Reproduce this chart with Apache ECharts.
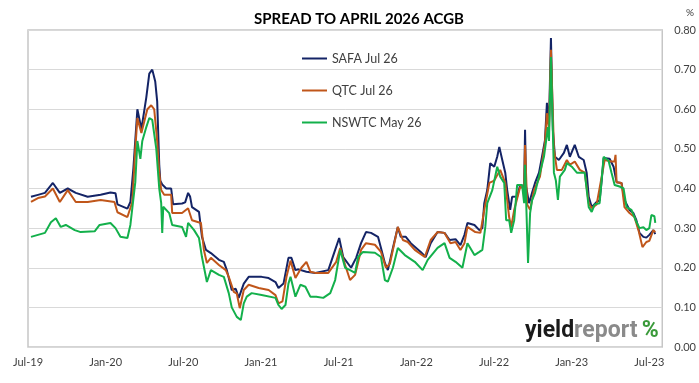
<!DOCTYPE html>
<html><head><meta charset="utf-8">
<script src="https://cdn.jsdelivr.net/npm/echarts@6/dist/echarts.min.js"></script>
<style>html,body{margin:0;padding:0;background:#fff}#c{width:699px;height:383px}</style>
</head><body><div id="c"></div>
<script>
// x = months since 1 Jul 2019, y = spread (%)
const tickLabels = ['Jul-19','Jan-20','Jul-20','Jan-21','Jul-21','Jan-22','Jul-22','Jan-23','Jul-23'];
const seriesNames = ['SAFA Jul 26','QTC Jul 26','NSWTC May 26'];

const safa = [[0.23,.379],[0.77,.384],[1.31,.389],[1.92,.414],[2.46,.389],[3.07,.400],[3.69,.389],[4.61,.379],[5.61,.384],[6.37,.390],[6.76,.388],[6.91,.360],[7.68,.349],[7.91,.366],[8.14,.450],[8.45,.600],[8.76,.550],[9.14,.630],[9.37,.690],[9.60,.700],[9.83,.670],[9.98,.620],[10.14,.460],[10.22,.420],[10.37,.410],[10.68,.400],[11.06,.400],[11.21,.360],[11.90,.362],[12.14,.365],[12.37,.389],[12.52,.380],[12.67,.353],[13.21,.341],[13.44,.278],[13.75,.245],[14.13,.237],[14.75,.220],[15.13,.215],[15.36,.194],[15.74,.144],[16.05,.147],[16.28,.124],[16.67,.160],[17.05,.177],[18.05,.177],[18.59,.174],[19.12,.164],[19.35,.149],[19.74,.160],[20.12,.225],[20.35,.225],[20.66,.194],[20.89,.196],[21.51,.190],[22.20,.187],[23.20,.194],[23.73,.245],[24.04,.275],[24.35,.227],[24.96,.200],[25.35,.225],[25.73,.262],[26.11,.290],[26.50,.288],[27.04,.278],[27.27,.250],[27.57,.212],[27.80,.194],[28.19,.250],[28.57,.303],[28.80,.278],[29.19,.278],[29.57,.262],[30.34,.240],[30.72,.227],[31.11,.262],[31.64,.290],[32.18,.288],[32.57,.270],[33.03,.272],[33.41,.257],[33.72,.283],[33.95,.313],[34.49,.308],[34.87,.295],[35.10,.300],[35.25,.363],[35.48,.396],[35.71,.464],[36.02,.455],[36.25,.480],[36.41,.505],[36.64,.472],[36.87,.440],[37.02,.396],[37.25,.346],[37.40,.379],[37.79,.380],[38.02,.409],[38.33,.405],[38.40,.548],[38.48,.405],[38.71,.363],[38.94,.389],[39.17,.414],[39.48,.440],[39.71,.480],[39.94,.522],[40.09,.616],[40.25,.565],[40.40,.780],[40.55,.548],[40.71,.480],[41.01,.472],[41.40,.490],[41.63,.510],[41.86,.480],[42.24,.510],[42.55,.480],[42.93,.472],[43.16,.440],[43.32,.379],[43.55,.353],[43.93,.366],[44.16,.370],[44.32,.420],[44.47,.477],[44.93,.475],[45.24,.455],[45.47,.416],[45.85,.414],[46.08,.371],[46.47,.346],[46.77,.338],[47.00,.320],[47.24,.288],[47.54,.278],[47.77,.276],[48.00,.283],[48.31,.295],[48.46,.285]];

const qtc = [[0.23,.366],[0.77,.376],[1.31,.380],[1.92,.400],[2.46,.366],[3.07,.396],[3.69,.366],[4.61,.366],[5.61,.371],[6.68,.366],[6.91,.340],[7.68,.328],[8.06,.366],[8.29,.500],[8.45,.578],[8.76,.540],[9.22,.600],[9.52,.610],[9.75,.600],[9.98,.520],[10.14,.440],[10.29,.396],[10.52,.384],[11.06,.384],[11.14,.338],[11.90,.338],[12.37,.350],[12.67,.320],[13.36,.313],[13.59,.245],[13.82,.212],[14.13,.225],[14.75,.207],[15.28,.194],[15.51,.177],[15.90,.139],[16.13,.135],[16.36,.098],[16.67,.144],[17.05,.157],[17.82,.149],[18.59,.144],[19.12,.131],[19.35,.110],[19.66,.115],[19.97,.177],[20.28,.218],[20.66,.174],[21.12,.200],[21.51,.215],[21.81,.190],[22.20,.187],[23.20,.187],[23.81,.215],[24.12,.250],[24.50,.207],[24.88,.169],[25.27,.182],[25.73,.245],[26.11,.262],[26.80,.258],[27.27,.240],[27.65,.200],[27.96,.210],[28.57,.303],[28.96,.270],[29.34,.265],[29.88,.245],[30.65,.227],[31.11,.270],[31.64,.290],[32.18,.288],[32.64,.262],[33.03,.265],[33.41,.245],[33.72,.262],[33.95,.303],[34.56,.290],[34.95,.288],[35.25,.346],[35.64,.414],[36.02,.420],[36.48,.447],[36.87,.414],[37.17,.328],[37.33,.303],[37.56,.346],[38.02,.404],[38.33,.400],[38.40,.510],[38.56,.360],[38.79,.346],[39.09,.396],[39.55,.430],[39.94,.515],[40.09,.590],[40.25,.550],[40.40,.750],[40.63,.500],[40.86,.447],[41.24,.447],[41.63,.472],[41.86,.460],[42.24,.468],[42.63,.447],[43.01,.440],[43.32,.363],[43.55,.350],[43.93,.360],[44.32,.430],[44.55,.472],[45.08,.468],[45.31,.468],[45.39,.485],[45.47,.416],[45.85,.414],[46.08,.353],[46.47,.338],[46.85,.328],[47.16,.295],[47.47,.252],[47.77,.265],[48.00,.268],[48.31,.295],[48.46,.290]];

const nswtc = [[0.23,.278],[0.77,.283],[1.31,.288],[1.77,.315],[2.15,.325],[2.53,.303],[2.92,.308],[3.61,.295],[4.07,.290],[5.15,.292],[5.53,.308],[6.37,.313],[6.76,.300],[7.14,.278],[7.68,.275],[7.91,.308],[8.29,.416],[8.45,.520],[8.68,.475],[8.83,.520],[9.14,.555],[9.37,.578],[9.60,.573],[9.91,.500],[10.14,.400],[10.29,.363],[10.37,.288],[10.45,.354],[10.91,.338],[11.14,.308],[11.90,.303],[12.21,.278],[12.37,.313],[12.83,.295],[13.21,.275],[13.44,.227],[13.82,.164],[14.13,.194],[14.75,.182],[15.13,.177],[15.51,.136],[15.74,.100],[16.13,.076],[16.44,.068],[16.67,.110],[16.90,.127],[17.28,.136],[18.05,.131],[19.12,.124],[19.35,.106],[19.59,.096],[19.89,.106],[20.12,.160],[20.28,.177],[20.66,.127],[21.04,.157],[21.43,.152],[21.81,.127],[22.27,.127],[22.81,.124],[23.35,.136],[23.73,.169],[24.12,.245],[24.50,.200],[24.88,.194],[25.27,.187],[25.50,.227],[25.88,.240],[26.80,.238],[27.27,.227],[27.57,.169],[27.80,.165],[28.19,.200],[28.57,.250],[29.11,.232],[29.88,.215],[30.49,.194],[30.88,.220],[31.64,.250],[32.18,.262],[32.57,.225],[33.03,.215],[33.56,.200],[33.95,.262],[34.49,.232],[34.87,.240],[35.10,.245],[35.33,.303],[35.48,.363],[35.87,.396],[36.25,.455],[36.48,.430],[36.79,.414],[36.94,.320],[37.17,.320],[37.33,.288],[37.56,.320],[37.79,.409],[38.17,.409],[38.33,.363],[38.40,.460],[38.63,.212],[38.79,.338],[38.94,.370],[39.17,.389],[39.55,.440],[39.86,.480],[40.17,.555],[40.25,.520],[40.40,.732],[40.63,.440],[40.78,.420],[40.94,.371],[41.09,.430],[41.47,.447],[41.63,.464],[42.01,.455],[42.40,.440],[43.01,.440],[43.32,.353],[43.55,.341],[43.78,.360],[44.16,.363],[44.47,.480],[44.85,.470],[45.08,.440],[45.32,.409],[45.70,.405],[46.01,.400],[46.24,.353],[46.62,.346],[47.00,.316],[47.24,.300],[47.54,.302],[47.77,.295],[48.00,.300],[48.16,.333],[48.39,.330],[48.46,.313]];

const colors = ['#142466','#c0561a','#13b04b'];
const FONT = 'Lato';

const chart = echarts.init(document.getElementById('c'), null, {renderer:'canvas'});
chart.setOption({
  animation:false,
  backgroundColor:'#fff',
  textStyle:{fontFamily:FONT},
  title:[{
    text:'SPREAD TO APRIL 2026 ACGB',
    left:354, top:7, textAlign:'center',
    textStyle:{fontFamily:FONT,fontWeight:'bold',fontSize:15,color:'#000'}
  },{
    text:'{a|yield}{b|report} {c|%}',
    left:520, top:315,
    textStyle:{rich:{
      a:{fontFamily:'Roboto',fontWeight:'bold',fontSize:23,color:'#1a1a1a'},
      b:{fontFamily:'Roboto',fontWeight:'bold',fontSize:23,color:'#8a8a8a'},
      c:{fontFamily:'Roboto',fontWeight:'bold',fontSize:23,color:'#3a9a3a'}
    }}
  },{
    text:'%', left:681, top:3,
    textStyle:{fontFamily:FONT,fontSize:10,fontWeight:'normal',color:'#404040'}
  }],
  legend:{
    orient:'vertical', left:297, top:47,
    icon:'rect', itemWidth:25, itemHeight:2, itemGap:19,
    textStyle:{fontFamily:FONT,fontSize:12.5,color:'#404040'},
    data:seriesNames
  },
  grid:{left:28,right:33,top:30,bottom:36,show:true,borderColor:'#c6c6c6',borderWidth:1.5},
  xAxis:{
    type:'value', min:0, max:49, interval:6,
    axisLine:{show:false}, axisTick:{show:false}, splitLine:{show:false},
    axisLabel:{margin:10,fontSize:11,color:'#404040',fontFamily:FONT,
      formatter:v=> (v%6===0 && tickLabels[v/6]) ? tickLabels[v/6] : ''}
  },
  yAxis:{
    type:'value', position:'right', min:0, max:0.8, interval:0.1,
    axisLine:{show:false}, axisTick:{show:false},
    splitLine:{lineStyle:{color:'#d9d9d9',width:1}},
    axisLabel:{margin:12,fontSize:11,color:'#404040',fontFamily:FONT,formatter:v=>v.toFixed(2)}
  },
  series:[
    {name:seriesNames[0],type:'line',data:safa,symbol:'none',lineStyle:{color:colors[0],width:2},itemStyle:{color:colors[0]}},
    {name:seriesNames[1],type:'line',data:qtc,symbol:'none',lineStyle:{color:colors[1],width:2},itemStyle:{color:colors[1]}},
    {name:seriesNames[2],type:'line',data:nswtc,symbol:'none',lineStyle:{color:colors[2],width:2},itemStyle:{color:colors[2]}}
  ]
});
</script></body></html>
